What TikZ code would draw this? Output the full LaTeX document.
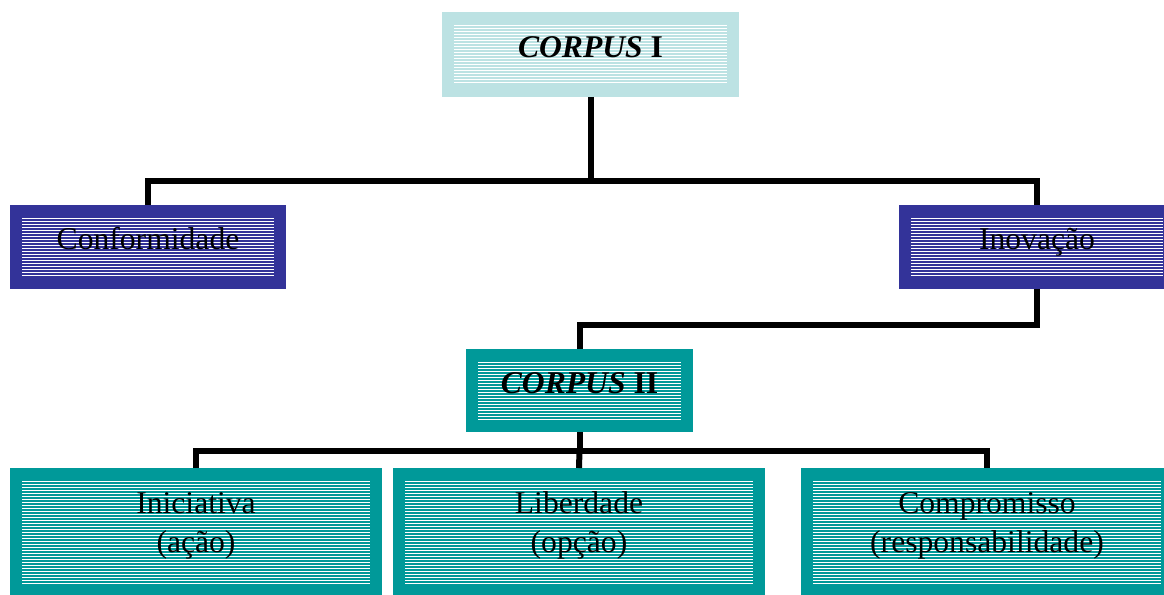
\documentclass[tikz,border=0pt]{standalone}
\usepackage{fontspec}
\setmainfont{Liberation Serif}
\definecolor{palecyan}{HTML}{BCE2E3}
\definecolor{navyblue}{HTML}{333399}
\definecolor{darkteal}{HTML}{009999}

\begin{document}
\begin{tikzpicture}[x=0.02cm, y=-0.02cm, font=\fontsize{18}{22}\selectfont,
  box/.style={draw=#1, line width=0.24cm, path picture={
    \foreach \k in {0,...,60}
      \draw[#1, line width=0.75pt] (path picture bounding box.north west) ++(0,\k*3) -- ++(400,0);}},
  oneline/.style={text height=12pt, text depth=9pt},
  twoline/.style={align=center, text height=23pt, text depth=0pt},
  link/.style={line width=0.12cm, color=black}]
\clip (0,0) rectangle (1164,595);
\useasboundingbox (0,0) rectangle (1164,595);
%\hspace{-3cm}
\node[box=palecyan, oneline, minimum width=5.7cm, minimum height=1.46cm] at (590.5, 54.5) (c1) {\textbf{\textit{CORPUS} I}};
\node[box=navyblue, oneline, minimum width=5.28cm, minimum height=1.44cm] at (148, 247) (conf) {Conformidade};
\node[box=navyblue, oneline, minimum width=5.28cm, minimum height=1.44cm] at (1037, 247) (inov) {Inovação};
\node[box=darkteal, oneline, minimum width=4.3cm, minimum height=1.42cm] at (579.5, 390.5) (c2) {\textbf{\textit{CORPUS} II}};
\node[box=darkteal, twoline, minimum width=7.2cm, minimum height=2.32cm] at (196, 532) (ini) {Iniciativa\\(ação)};
\node[box=darkteal, twoline, minimum width=7.2cm, minimum height=2.32cm] at (579, 532) (lib) {Liberdade\\(opção)};
\node[box=darkteal, twoline, minimum width=7.2cm, minimum height=2.32cm] at (987, 532) (comp) {Compromisso\\(responsabilidade)};
\coordinate (j1) at (590.5, 181);
\coordinate (j2) at (1037, 325);
\coordinate (j3) at (579.5, 451);
\draw[link] (c1.south) -- (j1);
\draw[link] (conf.north) |- (j1) -| (inov.north);
\draw[link] (inov.south) -- (j2) -| (c2.north);
\draw[link] (c2.south) -- (j3);
\draw[link] (ini.north) |- (j3) -| (comp.north);
\draw[link] (j3) -- (lib.north);
\end{tikzpicture}
\end{document}
